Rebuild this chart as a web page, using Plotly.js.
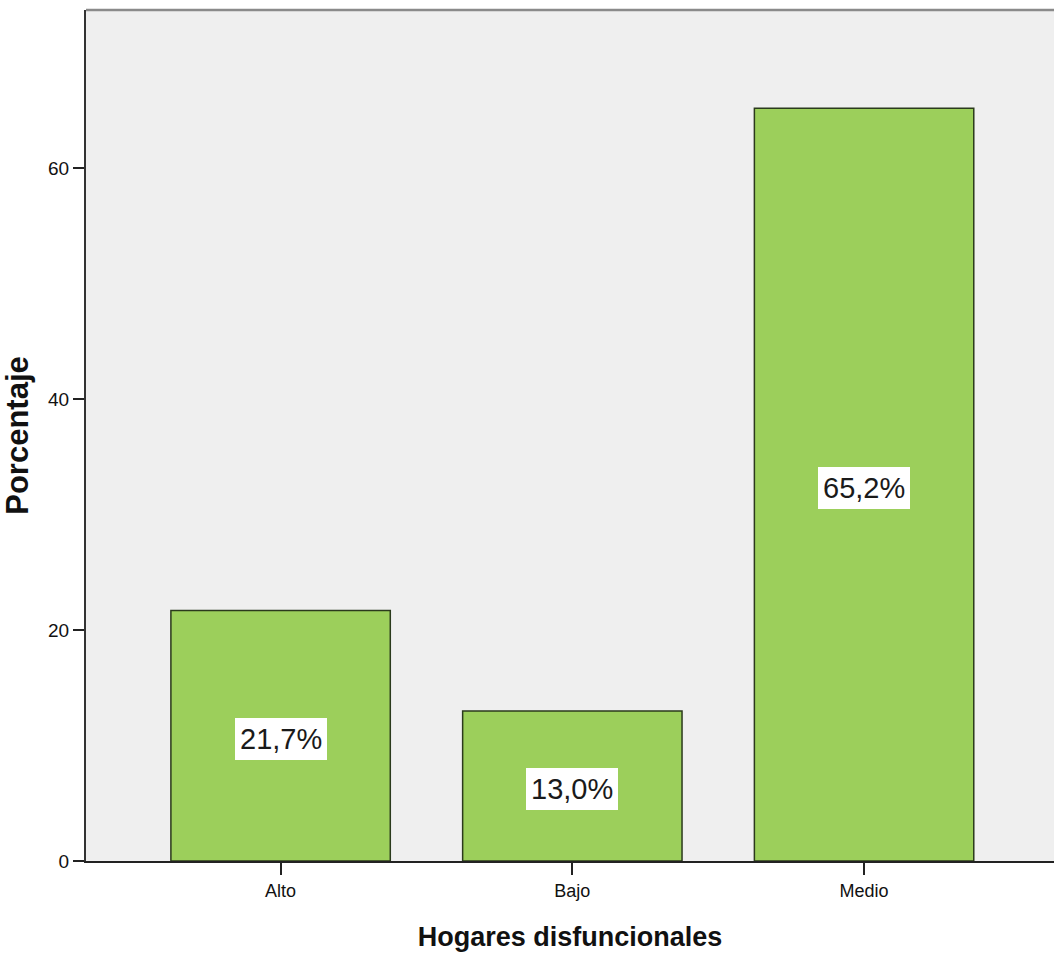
<!DOCTYPE html>
<html>
<head>
<meta charset="utf-8">
<script src="https://cdn.plot.ly/plotly-3.0.1.min.js"></script>
<style>html,body{margin:0;padding:0;background:#fff;}#chart{width:1054px;height:956px;}</style>
</head>
<body>
<div id="chart"></div>
<script>
const categories = ["Alto", "Bajo", "Medio"];
const values = [21.7, 13.0, 65.2];
const valueLabels = ["21,7%", "13,0%", "65,2%"];
const yTickVals = [0, 20, 40, 60];
const yTickText = ["0", "20", "40", "60"];

const sans = "Liberation Sans, Arial, sans-serif";

const trace = {
  type: "bar",
  x: categories,
  y: values,
  marker: {color: "#9ccf5b", line: {color: "#2b3a1c", width: 1.5}},
  hoverinfo: "none",
  showlegend: false
};

const annotations = categories.map((c, i) => ({
  x: c, y: values[i] / 2, xref: "x", yref: "y",
  text: valueLabels[i], showarrow: false,
  font: {family: sans, size: 29, color: "#1a1a1a"},
  bgcolor: "#ffffff", borderpad: 5, borderwidth: 0,
  yshift: -3
}));

const layout = {
  width: 1054, height: 956,
  margin: {l: 86, r: 0, t: 10, b: 95},
  paper_bgcolor: "#ffffff",
  plot_bgcolor: "#efefef",
  bargap: 0.248,
  xaxis: {
    type: "category",
    range: [-0.667, 2.651],
    showline: true, linecolor: "#222", linewidth: 2,
    ticks: "outside", ticklen: 12, tickwidth: 2, tickcolor: "#222",
    tickfont: {family: sans, size: 18, color: "#111"},
    showgrid: false, zeroline: false,
    title: {text: "<b>Hogares disfuncionales</b>", font: {family: sans, size: 27, color: "#111"}, standoff: 28}
  },
  yaxis: {
    range: [0, 73.7],
    tickvals: yTickVals, ticktext: yTickText,
    showline: true, linecolor: "#333", linewidth: 2,
    ticks: "outside", ticklen: 11, tickwidth: 2, tickcolor: "#222",
    tickfont: {family: sans, size: 19, color: "#111"},
    showgrid: false, zeroline: false,
    title: {text: "<b>Porcentaje</b>", font: {family: sans, size: 31, color: "#111"}, standoff: 12}
  },
  shapes: [{type: "line", xref: "paper", yref: "paper", x0: 0, x1: 1, y0: 1, y1: 1, line: {color: "#8a8a8a", width: 2.5}}],
  annotations: annotations
};

Plotly.newPlot("chart", [trace], layout, {displayModeBar: false, staticPlot: true});
</script>
</body>
</html>
